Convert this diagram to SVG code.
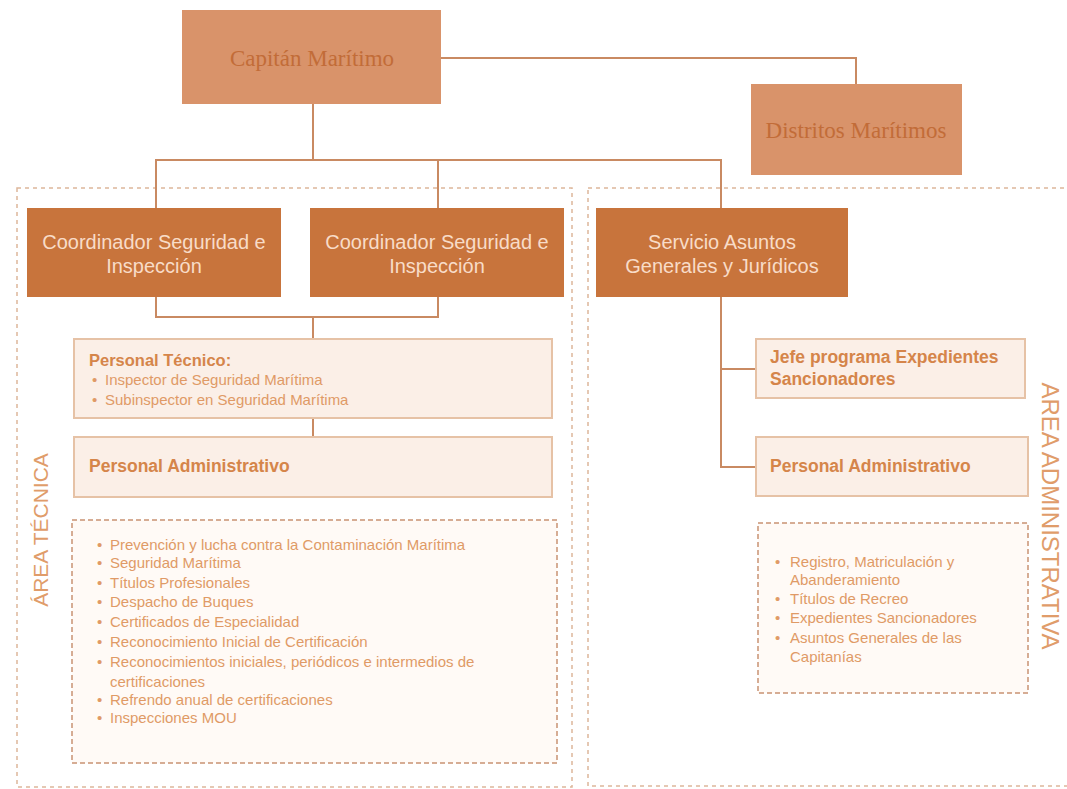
<svg xmlns="http://www.w3.org/2000/svg" width="1067" height="789" viewBox="0 0 1067 789">
<style>
.top{fill:#d9936a}
.toptxt{font-family:"Liberation Serif",serif;font-size:23px;fill:#c26c38;text-anchor:middle}
.dark{fill:#c8743c}
.darktxt{font-family:"Liberation Sans",Arial,sans-serif;font-size:20px;fill:#f8dcc8;text-anchor:middle}
.light{fill:#fbefe7;stroke:#e6c2a6;stroke-width:2}
.bold{font-family:"Liberation Sans",Arial,sans-serif;font-weight:bold;font-size:17.5px;fill:#d5854a}
.item{font-family:"Liberation Sans",Arial,sans-serif;font-size:15px;fill:#e09a66}
.region{fill:none;stroke:#ddb79b;stroke-width:1.5;stroke-dasharray:4 4}
.list{fill:#fffaf6;stroke:#c99273;stroke-width:1.5;stroke-dasharray:5 3}
.area{font-family:"Liberation Sans",Arial,sans-serif;font-size:22px;fill:#e09c6a;text-anchor:middle}
.conn{fill:none;stroke:#c98a62;stroke-width:2}
</style>
<rect width="1067" height="789" fill="#ffffff"/>
<g id="regions">
<rect class="region" x="17" y="188" width="555" height="599"/>
<rect class="region" x="588" y="188" width="485" height="598"/>
</g>
<g id="connectors">
<polyline class="conn" points="441,58 856,58 856,84"/>
<line class="conn" x1="313" y1="104" x2="313" y2="160"/>
<polyline class="conn" points="156,208 156,160 721,160 721,208"/>
<line class="conn" x1="438" y1="160" x2="438" y2="208"/>
<polyline class="conn" points="156,297 156,317 438,317 438,297"/>
<line class="conn" x1="313" y1="317" x2="313" y2="339"/>
<line class="conn" x1="313" y1="418" x2="313" y2="437"/>
<polyline class="conn" points="721,297 721,467 756,467"/>
<line class="conn" x1="721" y1="369" x2="756" y2="369"/>
</g>
<g id="capitan">
<rect class="top" x="182" y="10" width="259" height="94"/>
<text class="toptxt" x="312" y="66">Capitán Marítimo</text>
</g>
<g id="distritos">
<rect class="top" x="751" y="84" width="211" height="91"/>
<text class="toptxt" x="856" y="138">Distritos Marítimos</text>
</g>
<g id="coord1">
<rect class="dark" x="27" y="208" width="254" height="89"/>
<text class="darktxt" x="154" y="249">Coordinador Seguridad e</text>
<text class="darktxt" x="154" y="273">Inspección</text>
</g>
<g id="coord2">
<rect class="dark" x="310" y="208" width="254" height="89"/>
<text class="darktxt" x="437" y="249">Coordinador Seguridad e</text>
<text class="darktxt" x="437" y="273">Inspección</text>
</g>
<g id="servicio">
<rect class="dark" x="596" y="208" width="252" height="89"/>
<text class="darktxt" x="722" y="249">Servicio Asuntos</text>
<text class="darktxt" x="722" y="273">Generales y Jurídicos</text>
</g>
<g id="personal-tecnico">
<rect class="light" x="74" y="339" width="478" height="79"/>
<text class="bold" x="89" y="366" style="font-size:16.5px">Personal Técnico:</text>
<text class="item" x="92" y="385">•</text><text class="item" x="105" y="385">Inspector de Seguridad Marítima</text>
<text class="item" x="92" y="405">•</text><text class="item" x="105" y="405">Subinspector en Seguridad Marítima</text>
</g>
<g id="personal-admin-tec">
<rect class="light" x="74" y="437" width="478" height="60"/>
<text class="bold" x="89" y="472">Personal Administrativo</text>
</g>
<g id="jefe">
<rect class="light" x="756" y="339" width="269" height="59"/>
<text class="bold" x="770" y="363">Jefe programa Expedientes</text>
<text class="bold" x="770" y="385">Sancionadores</text>
</g>
<g id="personal-admin-adm">
<rect class="light" x="756" y="437" width="272" height="59"/>
<text class="bold" x="770" y="472">Personal Administrativo</text>
</g>
<g id="lista-tecnica">
<rect class="list" x="72" y="520" width="485" height="243"/>
<text class="item" x="97" y="550">•</text><text class="item" x="110" y="550">Prevención y lucha contra la Contaminación Marítima</text>
<text class="item" x="97" y="568">•</text><text class="item" x="110" y="568">Seguridad Marítima</text>
<text class="item" x="97" y="588">•</text><text class="item" x="110" y="588">Títulos Profesionales</text>
<text class="item" x="97" y="607">•</text><text class="item" x="110" y="607">Despacho de Buques</text>
<text class="item" x="97" y="627">•</text><text class="item" x="110" y="627">Certificados de Especialidad</text>
<text class="item" x="97" y="647">•</text><text class="item" x="110" y="647">Reconocimiento Inicial de Certificación</text>
<text class="item" x="97" y="667">•</text><text class="item" x="110" y="667">Reconocimientos iniciales, periódicos e intermedios de</text>
<text class="item" x="110" y="687">certificaciones</text>
<text class="item" x="97" y="705">•</text><text class="item" x="110" y="705">Refrendo anual de certificaciones</text>
<text class="item" x="97" y="723">•</text><text class="item" x="110" y="723">Inspecciones MOU</text>
</g>
<g id="lista-admin">
<rect class="list" x="758" y="523" width="270" height="170"/>
<text class="item" x="775" y="567">•</text><text class="item" x="790" y="567">Registro, Matriculación y</text>
<text class="item" x="790" y="585">Abanderamiento</text>
<text class="item" x="775" y="604">•</text><text class="item" x="790" y="604">Títulos de Recreo</text>
<text class="item" x="775" y="623">•</text><text class="item" x="790" y="623">Expedientes Sancionadores</text>
<text class="item" x="775" y="643">•</text><text class="item" x="790" y="643">Asuntos Generales de las</text>
<text class="item" x="790" y="662">Capitanías</text>
</g>
<g id="area-tecnica">
<text class="area" transform="translate(48,530) rotate(-90)" style="font-size:21px">ÁREA TÉCNICA</text>
</g>
<g id="area-administrativa">
<text class="area" transform="translate(1042,516) rotate(90)" style="font-size:24px">AREA ADMINISTRATIVA</text>
</g>
</svg>
